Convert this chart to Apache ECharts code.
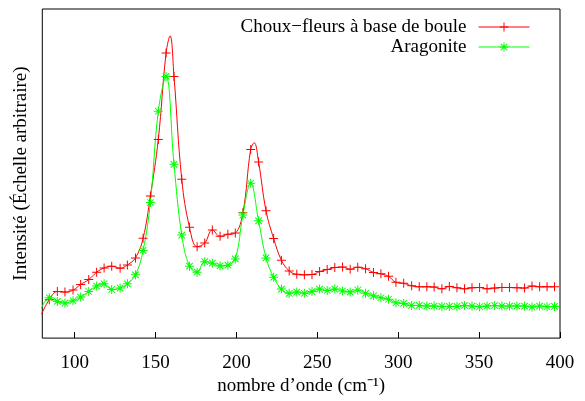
<!DOCTYPE html>
<html>
<head>
<meta charset="utf-8">
<script src="https://cdn.jsdelivr.net/npm/echarts@6/dist/echarts.min.js"></script>
<style>html,body{margin:0;padding:0;background:#fff}#c{width:585px;height:401px}</style>
</head>
<body>
<div id="c"></div>
<script>
var wavenumber = [79.5, 84.3, 89.3, 94.0, 99.0, 103.7, 108.7, 113.6, 118.2, 122.9, 128.1,
  132.6, 137.6, 142.3, 146.8, 151.7, 156.5, 161.4, 166.2, 171.0, 175.7,
  180.4, 185.1, 189.9, 194.7, 199.3, 204.0, 208.8, 213.7, 218.3, 223.0,
  227.8, 232.6, 237.3, 242.0, 246.7, 251.4, 256.1, 260.8, 265.6, 270.3,
  275.0, 279.8, 284.7, 289.3, 294.0, 298.6, 303.4, 308.3, 313.0, 317.7,
  322.2, 327.0, 331.6, 336.3, 341.0, 345.6, 350.3, 354.9, 359.6, 364.1,
  368.8, 373.4, 378.1, 382.7, 387.4, 392.0, 396.6];
var chouxFleurs = [24.0, 38.5, 46.8, 46.2, 48.2, 53.8, 58.8, 66.2, 70.5, 72.2, 70.2,
  73.5, 80.5, 100.2, 142.8, 199.5, 286.2, 262.8, 159.5, 111.2, 91.8,
  95.5, 108.5, 102.2, 104.2, 105.5, 126.0, 189.5, 176.8, 127.8, 100.0,
  78.2, 67.5, 64.0, 63.5, 63.8, 66.8, 68.8, 70.8, 71.3, 69.2,
  71.2, 69.7, 66.0, 64.5, 62.0, 56.0, 55.0, 52.5, 51.5, 51.5,
  51.2, 49.5, 51.8, 50.5, 49.5, 50.5, 50.8, 49.5, 50.2, 50.8,
  50.8, 50.5, 50.2, 52.2, 51.5, 51.5, 51.5];
var aragonite = [30.0, 40.5, 36.8, 35.2, 37.5, 41.2, 46.8, 52.2, 54.5, 48.8, 50.2,
  54.5, 63.5, 88.0, 136.2, 227.8, 262.8, 174.5, 103.5, 72.2, 66.2,
  76.8, 75.2, 72.5, 73.2, 79.5, 123.5, 155.5, 117.8, 80.5, 61.0,
  49.2, 45.0, 46.2, 45.0, 46.7, 49.2, 47.8, 49.2, 47.3, 46.2,
  48.3, 45.0, 42.5, 40.5, 39.0, 35.5, 34.8, 32.8, 32.8, 32.2,
  32.2, 31.8, 31.8, 31.8, 32.8, 32.2, 31.5, 32.2, 32.8, 32.2,
  32.2, 32.2, 32.2, 31.2, 32.2, 31.5, 31.8];
// apex of the drawn (spline) curve between samples
var chouxApexX = [159.0, 211.0];
var chouxApexY = [303.5, 196.2];
var xTicks = [100, 150, 200, 250, 300, 350, 400];
var seriesNames = ['Choux\u2212fleurs \u00e0 base de boule', 'Aragonite'];

function buildData(xs, ys, ax, ay) {
  var d = xs.map(function (x, i) { return { value: [x, ys[i]] }; });
  (ax || []).forEach(function (x, i) { d.push({ value: [x, ay[i]], symbol: 'none' }); });
  d.sort(function (a, b) { return a.value[0] - b.value[0]; });
  return d;
}
var PLUS = 'path://M0,4H9V5H0Z M4,0H5V9H4Z';
var STAR = 'path://M0,4H9V5H0Z M4,0H5V9H4Z M0.9,1.6L1.6,0.9L8.1,7.4L7.4,8.1Z M7.4,0.9L8.1,1.6L1.6,8.1L0.9,7.4Z';
var FONT = "'Liberation Serif','Times New Roman',serif";

var chart = echarts.init(document.getElementById('c'), null, { renderer: 'canvas' });
chart.setOption({
  animation: false,
  backgroundColor: '#fff',
  textStyle: { fontFamily: FONT },
  grid: { left: 42.3, right: 25, top: 9, bottom: 61.5, show: true, borderColor: '#000', borderWidth: 1, backgroundColor: 'transparent' },
  legend: {
    orient: 'vertical', right: 50, top: 12, align: 'right',
    itemWidth: 51, itemHeight: 11, itemGap: 0,
    lineStyle: { width: 1 },
    textStyle: { fontFamily: FONT, fontSize: 19, color: '#000', lineHeight: 20, padding: [0, 7, 0, 0] },
    data: seriesNames
  },
  xAxis: {
    type: 'value', min: 80, max: 400,
    name: 'nombre d\u2019onde (cm\u207b\u00b9)', nameLocation: 'middle', nameGap: 37,
    nameTextStyle: { fontFamily: FONT, fontSize: 19, color: '#000' },
    axisLine: { show: false },
    splitLine: { show: false },
    axisTick: { show: true, inside: true, length: 6, lineStyle: { color: '#000', width: 1 }, customValues: xTicks },
    axisLabel: { fontFamily: FONT, fontSize: 19, color: '#000', margin: 15, customValues: xTicks }
  },
  yAxis: {
    type: 'value', min: 0, max: 330.5,
    name: 'Intensit\u00e9 (\u00c9chelle arbitraire)', nameLocation: 'middle', nameGap: 12,
    nameTextStyle: { fontFamily: FONT, fontSize: 19, color: '#000' },
    axisLine: { show: false }, axisTick: { show: false }, axisLabel: { show: false }, splitLine: { show: false }
  },
  series: [
    {
      name: seriesNames[0], type: 'line', smooth: 0.4, clip: true,
      symbol: PLUS, symbolSize: 9, showAllSymbol: true,
      lineStyle: { color: '#ff0000', width: 1 },
      itemStyle: { color: '#ff0000', borderWidth: 0 },
      data: buildData(wavenumber, chouxFleurs, chouxApexX, chouxApexY)
    },
    {
      name: seriesNames[1], type: 'line', smooth: 0.4, clip: true,
      symbol: STAR, symbolSize: 9, showAllSymbol: true,
      lineStyle: { color: '#00ff00', width: 1 },
      itemStyle: { color: '#00ff00', borderWidth: 0 },
      data: buildData(wavenumber, aragonite)
    }
  ]
});
</script>
</body>
</html>
